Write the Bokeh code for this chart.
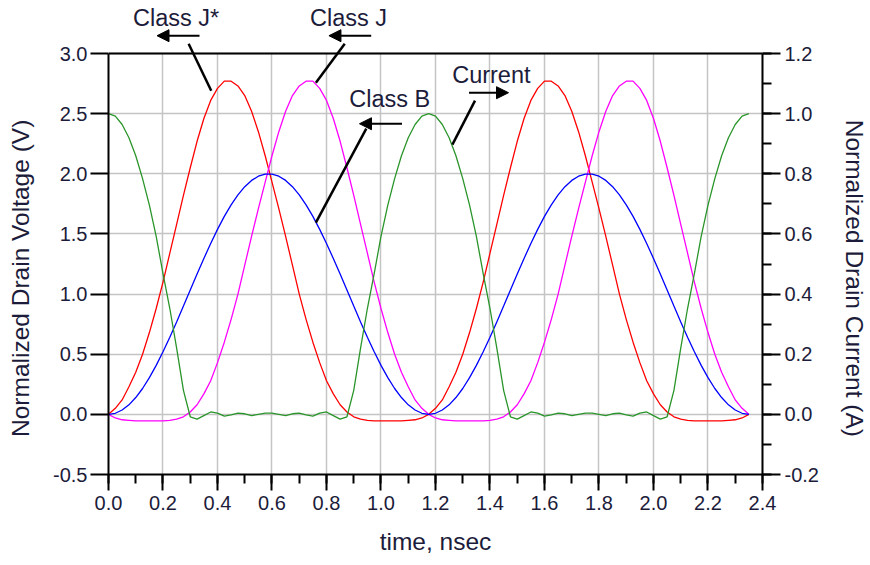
from bokeh.plotting import figure
from bokeh.models import (Range1d, LinearAxis, SingleIntervalTicker, PrintfTickFormatter,
                          Label, Arrow, NormalHead, Span)
from bokeh.embed import file_html
from bokeh.resources import INLINE

# ---------------- data ----------------
time_ns = [0.000, 0.025, 0.050, 0.075, 0.100, 0.125, 0.150, 0.175, 0.200, 0.225,
           0.250, 0.275, 0.300, 0.325, 0.350, 0.375, 0.400, 0.425, 0.450, 0.475,
           0.500, 0.525, 0.550, 0.575, 0.600, 0.625, 0.650, 0.675, 0.700, 0.725,
           0.750, 0.775, 0.800, 0.825, 0.850, 0.875, 0.900, 0.925, 0.950, 0.975,
           1.000, 1.025, 1.050, 1.075, 1.100, 1.125, 1.150, 1.175, 1.200, 1.225,
           1.250, 1.275, 1.300, 1.325, 1.350, 1.375, 1.400, 1.425, 1.450, 1.475,
           1.500, 1.525, 1.550, 1.575, 1.600, 1.625, 1.650, 1.675, 1.700, 1.725,
           1.750, 1.775, 1.800, 1.825, 1.850, 1.875, 1.900, 1.925, 1.950, 1.975,
           2.000, 2.025, 2.050, 2.075, 2.100, 2.125, 2.150, 2.175, 2.200, 2.225,
           2.250, 2.275, 2.300, 2.325, 2.350]

# Normalized drain voltage (V)
class_b = [0.000, 0.009, 0.036, 0.079, 0.140, 0.215, 0.305, 0.407, 0.520, 0.641,
           0.768, 0.900, 1.033, 1.166, 1.296, 1.421, 1.538, 1.646, 1.742, 1.825,
           1.893, 1.945, 1.980, 1.998, 1.998, 1.980, 1.945, 1.893, 1.825, 1.742,
           1.646, 1.538, 1.421, 1.296, 1.166, 1.033, 0.900, 0.768, 0.641, 0.520,
           0.407, 0.305, 0.215, 0.140, 0.079, 0.036, 0.009, 0.000,
           0.009, 0.036, 0.079, 0.140, 0.215, 0.305, 0.407, 0.520, 0.641,
           0.768, 0.900, 1.033, 1.166, 1.296, 1.421, 1.538, 1.646, 1.742, 1.825,
           1.893, 1.945, 1.980, 1.998, 1.998, 1.980, 1.945, 1.893, 1.825, 1.742,
           1.646, 1.538, 1.421, 1.296, 1.166, 1.033, 0.900, 0.768, 0.641, 0.520,
           0.407, 0.305, 0.215, 0.140, 0.079, 0.036, 0.009, 0.000]

class_jstar = [0.00, 0.05, 0.12, 0.23, 0.35, 0.50, 0.68, 0.88, 1.10, 1.34,
               1.58, 1.82, 2.05, 2.27, 2.46, 2.61, 2.71, 2.77, 2.77, 2.73,
               2.65, 2.52, 2.35, 2.15, 1.93, 1.71, 1.48, 1.24, 1.00, 0.79,
               0.60, 0.43, 0.28, 0.17, 0.08, 0.02, -0.02, -0.04, -0.05, -0.055,
               -0.055, -0.055, -0.055, -0.055, -0.05, -0.045, -0.03, 0.00,
               0.05, 0.12, 0.23, 0.35, 0.50, 0.68, 0.88, 1.10, 1.34,
               1.58, 1.82, 2.05, 2.27, 2.46, 2.61, 2.71, 2.77, 2.77, 2.73,
               2.65, 2.52, 2.35, 2.15, 1.93, 1.71, 1.48, 1.24, 1.00, 0.79,
               0.60, 0.43, 0.28, 0.17, 0.08, 0.02, -0.02, -0.04, -0.05, -0.055,
               -0.055, -0.055, -0.055, -0.055, -0.05, -0.045, -0.03, 0.00]

class_j = [0.00, -0.03, -0.045, -0.05, -0.055, -0.055, -0.055, -0.055, -0.055, -0.05,
           -0.04, -0.02, 0.02, 0.08, 0.17, 0.28, 0.43, 0.60, 0.79, 1.00,
           1.24, 1.48, 1.71, 1.93, 2.15, 2.35, 2.52, 2.65, 2.73, 2.77,
           2.77, 2.71, 2.61, 2.46, 2.27, 2.05, 1.82, 1.58, 1.34, 1.10,
           0.88, 0.68, 0.50, 0.35, 0.23, 0.12, 0.05, 0.00,
           -0.03, -0.045, -0.05, -0.055, -0.055, -0.055, -0.055, -0.055, -0.05,
           -0.04, -0.02, 0.02, 0.08, 0.17, 0.28, 0.43, 0.60, 0.79, 1.00,
           1.24, 1.48, 1.71, 1.93, 2.15, 2.35, 2.52, 2.65, 2.73, 2.77,
           2.77, 2.71, 2.61, 2.46, 2.27, 2.05, 1.82, 1.58, 1.34, 1.10,
           0.88, 0.68, 0.50, 0.35, 0.23, 0.12, 0.05, 0.00]

# Normalized drain current (A)
current = [1.000, 0.992, 0.964, 0.920, 0.860, 0.784, 0.696, 0.592, 0.468, 0.352,
           0.220, 0.080, -0.008, -0.016, -0.004, 0.008, 0.004, -0.006, -0.002, 0.004,
           0.002, -0.004, 0.000, 0.004, 0.004, 0.000, -0.004, 0.002, 0.004, -0.002,
           -0.006, 0.004, 0.008, -0.004, -0.016, -0.008, 0.080, 0.220, 0.352, 0.468,
           0.592, 0.696, 0.784, 0.860, 0.920, 0.964, 0.992, 1.000,
           0.992, 0.964, 0.920, 0.860, 0.784, 0.696, 0.592, 0.468, 0.352,
           0.220, 0.080, -0.008, -0.016, -0.004, 0.008, 0.004, -0.006, -0.002, 0.004,
           0.002, -0.004, 0.000, 0.004, 0.004, 0.000, -0.004, 0.002, 0.004, -0.002,
           -0.006, 0.004, 0.008, -0.004, -0.016, -0.008, 0.080, 0.220, 0.352, 0.468,
           0.592, 0.696, 0.784, 0.860, 0.920, 0.964, 0.992, 1.000]

x_label = "time, nsec"
y_label_left = "Normalized Drain Voltage (V)"
y_label_right = "Normalized Drain Current (A)"

T_MIN, T_MAX = 0.0, 2.4
V_MIN, V_MAX = -0.5, 3.0
I_MIN, I_MAX = -0.2, 1.2

# ---------------- figure ----------------
FONT = "Liberation Sans"
TXT = "#1c1c3a"
EPS = 1e-6
PAD = "\u00a0" * 12   # keeps the axis titles centred on the boxed area, not on the taller frame

W, H = 870, 565
LEFT, RIGHT, BOTTOM = 108, 100, 91
FRAME_H = H - BOTTOM            # frame reaches the top so the notes above the box show
BOX_H = 421                     # pixel height of the boxed plot area
v_top = V_MIN + (V_MAX - V_MIN) * FRAME_H / BOX_H
i_top = I_MIN + (I_MAX - I_MIN) * FRAME_H / BOX_H

p = figure(width=W, height=H, output_backend="svg", toolbar_location=None,
           x_range=Range1d(T_MIN, T_MAX + EPS), y_range=Range1d(V_MIN, v_top),
           min_border_left=LEFT, min_border_right=RIGHT, min_border_top=0,
           min_border_bottom=BOTTOM)
p.extra_y_ranges = {"cur": Range1d(I_MIN, i_top)}
p.outline_line_color = None
p.background_fill_color = "white"
p.border_fill_color = "white"

p.xaxis.ticker = SingleIntervalTicker(interval=0.2, num_minor_ticks=2)
p.yaxis.ticker = SingleIntervalTicker(interval=0.5, num_minor_ticks=0)
p.xaxis.axis_label = x_label
p.yaxis.axis_label = y_label_left + PAD
p.yaxis.bounds = (V_MIN, V_MAX + EPS)

right_axis = LinearAxis(y_range_name="cur",
                        ticker=SingleIntervalTicker(interval=0.2, num_minor_ticks=2),
                        axis_label=PAD + y_label_right, bounds=(I_MIN, I_MAX + EPS))
p.add_layout(right_axis, "right")

for ax in [p.xaxis[0], p.yaxis[0], right_axis]:
    ax.formatter = PrintfTickFormatter(format="%.1f")
    ax.axis_line_color = "black"
    ax.axis_line_width = 2
    ax.major_tick_line_color = "black"
    ax.major_tick_line_width = 2
    ax.minor_tick_line_color = "black"
    ax.minor_tick_line_width = 2
    ax.major_tick_in = 0
    ax.major_tick_out = 18
    ax.minor_tick_in = 0
    ax.minor_tick_out = 9
    ax.major_label_text_font = FONT
    ax.major_label_text_font_size = "20px"
    ax.major_label_text_color = TXT
    ax.major_label_standoff = 3
    ax.axis_label_text_font = FONT
    ax.axis_label_text_font_size = "24.5px"
    ax.axis_label_text_font_style = "normal"
    ax.axis_label_text_color = TXT
    ax.axis_label_standoff = 16

p.xaxis[0].major_tick_out = 16
p.xaxis[0].major_label_standoff = 5
p.xaxis[0].axis_label_standoff = 15
right_axis.major_label_standoff = 4
right_axis.axis_label_standoff = 19
p.yaxis[0].minor_tick_line_color = None

for g in [p.xgrid[0], p.ygrid[0]]:
    g.grid_line_color = "#c4c4c4"
    g.grid_line_width = 1.5
p.xgrid[0].cross_bounds = (V_MIN, V_MAX)

# top edge of the box
p.add_layout(Span(location=V_MAX, dimension="width", line_color="black", line_width=2))

# ---------------- curves ----------------
p.line(time_ns, class_jstar, line_color="#ff0000", line_width=1.3)
p.line(time_ns, class_j, line_color="#ff00ff", line_width=1.3)
p.line(time_ns, class_b, line_color="#0000ff", line_width=1.3)
p.line(time_ns, current, line_color="#2a952a", line_width=1.3, y_range_name="cur")

# ---------------- annotations ----------------
def label(x, y, text):
    p.add_layout(Label(x=x, y=y, text=text, text_align="center", text_baseline="middle",
                       text_font=FONT, text_font_size="23.5px", text_color=TXT))

def pointer(x0, y0, x1, y1):
    p.add_layout(Arrow(end=NormalHead(size=12, fill_color="black", line_color="black"),
                       x_start=x0, y_start=y0, x_end=x1, y_end=y1,
                       line_color="black", line_width=2))

def stroke(x0, y0, x1, y1):
    p.add_layout(Arrow(end=None, x_start=x0, y_start=y0, x_end=x1, y_end=y1,
                       line_color="black", line_width=2.5))

label(0.248, 3.297, "Class J*")
pointer(0.334, 3.148, 0.178, 3.148)
stroke(0.294, 3.081, 0.377, 2.690)

label(0.881, 3.297, "Class J")
pointer(0.964, 3.148, 0.809, 3.148)
stroke(0.867, 3.081, 0.761, 2.757)

label(1.032, 2.624, "Class B")
pointer(1.077, 2.416, 0.921, 2.416)
stroke(0.946, 2.375, 0.761, 1.594)

label(1.405, 2.824, "Current")
pointer(1.323, 2.674, 1.468, 2.674)
stroke(1.345, 2.608, 1.262, 2.242)

open("out.html", "w").write(file_html(p, INLINE))
